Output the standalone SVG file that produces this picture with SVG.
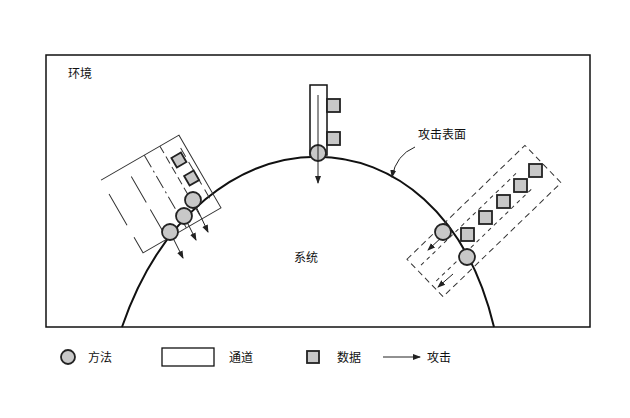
<svg xmlns="http://www.w3.org/2000/svg" width="630" height="418" viewBox="0 0 630 418">
<defs>
<style>
text{font-family:"Noto Sans CJK SC","Noto Sans",sans-serif;font-size:12px;fill:#111}
.m{fill:#c8c8c8;stroke:#222;stroke-width:1.8}
.d{fill:#c8c8c8;stroke:#222;stroke-width:1.8}
.ch{fill:none;stroke:#333;stroke-width:1}
.ar{stroke:#222;stroke-width:1;fill:none;marker-end:url(#ah)}
</style>
<marker id="ah" markerWidth="8" markerHeight="8" refX="7" refY="4" orient="auto" markerUnits="userSpaceOnUse"><path d="M0,1 L8,4 L0,7 Z" fill="#222"/></marker>
</defs>
<rect width="630" height="418" fill="#fff"/>
<g id="env"><rect x="46" y="55" width="544" height="272" fill="none" stroke="#111" stroke-width="1.5"/><text x="68" y="78">环境</text></g>
<g id="system"><path d="M122,327 C200,100 440,100 494,327" fill="none" stroke="#111" stroke-width="2"/><text x="294" y="262">系统</text></g>
<g id="surface-label"><text x="418" y="139">攻击表面</text><path d="M415,147 Q396,155 392,177" class="ar"/></g>
<g id="top-channel">
<rect x="310" y="85" width="17" height="70" fill="#fff" stroke="#111" stroke-width="1.5"/>
<rect class="d" x="327" y="99" width="13" height="13"/><rect class="d" x="327" y="132" width="13" height="13"/>
<circle class="m" cx="318" cy="153" r="8"/>
<line x1="318" y1="95" x2="318" y2="183" class="ar" stroke="#555"/>
</g>
<g id="left-channel">
<g transform="translate(161,194) rotate(-30)">
<path d="M-45,-42 H45 V42 H-45 V24 M-45,10 V-26" class="ch"/>
<line x1="5" y1="-42" x2="5" y2="42" class="ch" stroke-dasharray="14,4,2,4"/>
<line x1="23" y1="-42" x2="23" y2="42" class="ch" stroke-dasharray="8,4"/>
<line x1="-17" y1="-30" x2="-17" y2="36" class="ch" stroke-dasharray="30,8"/>
<line x1="40" y1="-30" x2="40" y2="30" class="ch" stroke-dasharray="10,6"/>
<rect class="d" x="27" y="-26" width="11" height="11"/>
<rect class="d" x="29" y="-4" width="11" height="11"/>
</g>
<line x1="170" y1="232" x2="183" y2="258" class="ar"/>
<line x1="184" y1="216" x2="196" y2="240" class="ar"/>
<line x1="193" y1="200" x2="208" y2="232" class="ar"/>
<circle class="m" cx="170" cy="232" r="8"/>
<circle class="m" cx="184" cy="216" r="8"/>
<circle class="m" cx="193" cy="200" r="8"/>
</g>
<g id="right-channel">
<g transform="translate(484,221) rotate(-44)">
<rect x="-82" y="-26" width="164" height="52" class="ch" stroke-dasharray="6,4"/>
<line x1="-76" y1="-12" x2="60" y2="-12" class="ch" stroke-dasharray="4,4"/>
<line x1="-76" y1="10" x2="60" y2="10" class="ch" stroke-dasharray="4,4"/>
</g>
<rect class="d" x="461" y="228" width="13" height="13"/>
<rect class="d" x="479" y="211" width="13" height="13"/>
<rect class="d" x="497" y="195" width="13" height="13"/>
<rect class="d" x="514" y="179" width="13" height="13"/>
<rect class="d" x="529" y="164" width="13" height="13"/>
<line x1="443" y1="236" x2="428" y2="250" class="ar"/>
<line x1="453" y1="274" x2="438" y2="287" class="ar"/>
<circle class="m" cx="443" cy="232" r="8"/>
<circle class="m" cx="467" cy="257" r="8"/>
</g>
<g id="legend">
<circle class="m" cx="68" cy="357" r="7"/><text x="88" y="362">方法</text>
<rect x="162" y="348" width="52" height="18" fill="#fff" stroke="#111" stroke-width="1.3"/><text x="229" y="362">通道</text>
<rect class="d" x="307" y="351" width="12" height="12"/><text x="337" y="362">数据</text>
<line x1="383" y1="357" x2="420" y2="357" class="ar"/><text x="427" y="362">攻击</text>
</g>
</svg>
